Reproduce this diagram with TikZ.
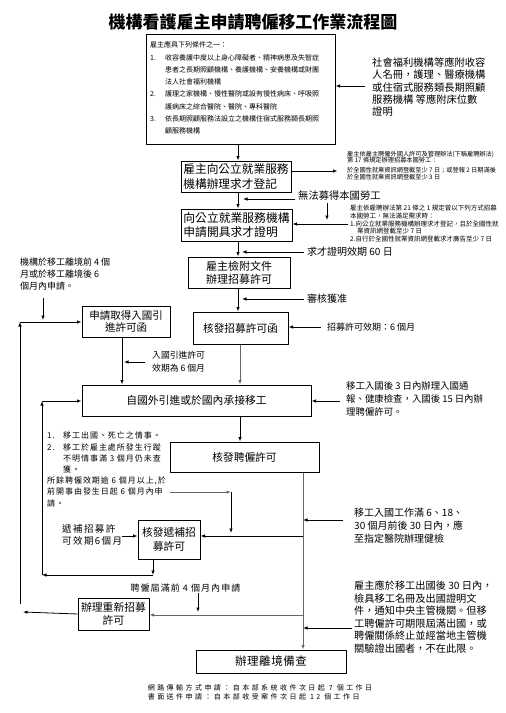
\documentclass[tikz,border=0pt]{standalone}
\usepackage{fontspec}
\setmainfont{Noto Sans CJK TC}
\usetikzlibrary{arrows.meta}

\begin{document}
\begin{tikzpicture}[x=1pt,y=-1pt,>={Latex[length=4.5pt,width=3.5pt]},line join=round,
  box/.style={draw,line width=1pt,align=center,inner sep=0pt},
  note/.style={anchor=north west,align=left,inner sep=0pt},
  lbl/.style={anchor=west,inner sep=0pt},
  conn/.style={->,line width=0.8pt},
  gconn/.style={->,line width=0.8pt,gray!80!black}]
  \useasboundingbox (0,0) rectangle (506,713);
  % title
  \node[font=\fontsize{17}{20}\selectfont\bfseries] (title) at (253,22) {機構看護雇主申請聘僱移工作業流程圖};
  % column coordinates
  \coordinate (mx) at (238,0);
  \coordinate (mxr) at (242,0);
  \coordinate (cx) at (240,0);
  \coordinate (ex) at (122,0);
  \coordinate (rj) at (303,536);
  % boxes
  \node[box,minimum width=189pt,minimum height=110pt] (cond) at (240.5,89) {};
  \node[note,font=\fontsize{7}{12.3}\selectfont] (condtxt) at (150,41.5) {雇主應具下列條件之一：\\
    \makebox[15pt][l]{1.}收容養護中度以上身心障礙者、精神病患及失智症\\
    \hspace*{15pt}患者之長期照顧機構、養護機構、安養機構或財團\\
    \hspace*{15pt}法人社會福利機構\\
    \makebox[15pt][l]{2.}護理之家機構、慢性醫院或設有慢性病床、呼吸照\\
    \hspace*{15pt}護病床之綜合醫院、醫院、專科醫院\\
    \makebox[15pt][l]{3.}依長期照顧服務法設立之機構住宿式服務類長期照\\
    \hspace*{15pt}顧服務機構};
  \node[box,align=left,minimum width=110pt,minimum height=31pt,font=\fontsize{11.7}{15.5}\selectfont] (reg) at (236,176.5) {雇主向公立就業服務\\機構辦理求才登記};
  \node[box,align=left,minimum width=111pt,minimum height=32pt,font=\fontsize{11.8}{14}\selectfont] (cert) at (236.5,225) {向公立就業服務機構\\申請開具求才證明};
  \node[box,minimum width=102pt,minimum height=31pt,font=\fontsize{11}{13}\selectfont] (docs) at (239,272.5) {雇主檢附文件\\辦理招募許可};
  \node[box,minimum width=88pt,minimum height=31pt,font=\fontsize{10.5}{12.5}\selectfont] (entry) at (126,321.5) {申請取得入國引\\進許可函};
  \node[box,minimum width=95pt,minimum height=32pt,font=\fontsize{10.7}{13}\selectfont] (recruit) at (240.5,328) {核發招募許可函};
  \node[box,minimum width=229pt,minimum height=31pt,font=\fontsize{10.8}{13}\selectfont] (hire) at (196.5,400.5) {自國外引進或於國內承接移工};
  \node[box,minimum width=149pt,minimum height=30pt,font=\fontsize{10.7}{13}\selectfont] (permit) at (244.5,457) {核發聘僱許可};
  \node[box,minimum width=62pt,minimum height=39pt,font=\fontsize{10.8}{13.5}\selectfont] (refill) at (169,539.5) {核發遞補招\\募許可};
  \node[box,minimum width=71pt,minimum height=32pt,font=\fontsize{10.8}{13}\selectfont] (renew) at (113.5,614) {辦理重新招募\\許可};
  \node[box,minimum width=150pt,minimum height=23pt,font=\fontsize{11.5}{13}\selectfont\addfontfeature{LetterSpace=5}] (leave) at (271,661.5) {辦理離境備查};
  % notes
  \node[note,font=\fontsize{10.3}{12.3}\selectfont] (welfare) at (372,57.5) {社會福利機構等應附收容\\人名冊，護理、醫療機構\\或住宿式服務類長期照顧\\服務機構 等應附床位數\\證明};
  \node[note,font=\fontsize{6.2}{6.5}\selectfont] (art17) at (347,151) {雇主依雇主聘僱外國人許可及管理辦法(下稱雇聘辦法)\\第 17 條規定辦理招募本國勞工：\\[3.5pt]於全國性就業資訊網登載至少 7 日；或登報 2 日期滿後\\於全國性就業資訊網登載至少 3 日};
  \node[lbl,font=\fontsize{10.3}{12}\selectfont] (nofound) at (298,196) {無法募得本國勞工};
  \node[note,font=\fontsize{6.5}{7.9}\selectfont] (art21) at (350,204.5) {雇主依雇聘辦法第 21 條之 1 規定曾以下列方式招募\\本國勞工，無法滿足需求時：\\1.向公立就業服務機構辦理求才登記，且於全國性就\\\hspace*{7pt}業資訊網登載至少 7 日\\2.自行於全國性就業資訊網登載求才廣告至少 7 日};
  \node[lbl,font=\fontsize{10}{12}\selectfont] (valid60) at (307,252) {求才證明效期 60 日};
  \node[lbl,font=\fontsize{10}{12}\selectfont] (approve) at (307,299) {審核獲准};
  \node[lbl,font=\fontsize{9}{11}\selectfont] (valid6m) at (327,327) {招募許可效期：6 個月};
  \node[note,font=\fontsize{9}{12.3}\selectfont] (apply) at (20,257.5) {機構於移工離境前 4 個\\月或於移工離境後 6\\個月內申請。};
  \node[note,font=\fontsize{8.8}{13}\selectfont] (evalid) at (152,350.6) {入國引進許可\\效期為 6 個月};
  \node[note,font=\fontsize{9.4}{13}\selectfont] (hnote) at (346,381.3) {移工入國後 3 日內辦理入國通\\報、健康檢查，入國後 15 日內辦\\理聘僱許可。};
  \node[note,font=\fontsize{8}{11.2}\selectfont\addfontfeature{LetterSpace=12}] (cases) at (47,432) {\makebox[16pt][l]{1.}移工出國、死亡之情事。\\
    \makebox[16pt][l]{2.}移工於雇主處所發生行蹤\\
    \hspace*{16pt}不明情事滿 3 個月仍未查\\
    \hspace*{16pt}獲。\\
    所餘聘僱效期逾 6 個月以上,於\\
    前開事由發生日起 6 個月內申\\
    請。};
  \node[note,font=\fontsize{9.5}{12}\selectfont\addfontfeature{LetterSpace=15}] (rvalid) at (62,524) {遞補招募許\\可效期6個月};
  \node[note,font=\fontsize{10}{13}\selectfont] (pnote) at (354,508) {移工入國工作滿 6、18、\\30 個月前後 30 日內，應\\至指定醫院辦理健檢};
  \node[inner sep=0pt,font=\fontsize{9}{11}\selectfont\addfontfeature{LetterSpace=12}] (before4) at (185.5,588) {聘僱屆滿前 4 個月內申請};
  \node[note,font=\fontsize{10.2}{12.5}\selectfont] (onote) at (354,580.9) {雇主應於移工出國後 30 日內，\\檢具移工名冊及出國證明文\\件，通知中央主管機關。但移\\工聘僱許可期限屆滿出國，或\\聘僱關係終止並經當地主管機\\關驗證出國者，不在此限。};
  \node[inner sep=0pt,align=left,font=\fontsize{7}{9}\selectfont\addfontfeature{LetterSpace=35}] (foot) at (260,692.5) {網路傳輸方式申請：自本部系統收件次日起 7 個工作日\\書面送件申請：自本部收受案件次日起 12 個工作日};
  % main column
  \draw[conn] (cond.south -| mx) -- (reg.north -| mx);
  \draw[conn] (reg.south -| mx) -- (cert.north -| mx);
  \draw[conn] (cert.south -| mx) -- (docs.north -| mx);
  \draw[conn] (docs.south -| mx) -- (recruit.north -| mx);
  \draw[gconn] (recruit.south -| cx) -- (hire.north -| cx);
  \draw[conn] (hire.south -| cx) -- (permit.north -| cx);
  \draw[conn] (entry.south -| ex) -- (hire.north -| ex);
  \draw[gconn] (permit.south -| rj) -- (leave.north -| rj);
  \draw[conn] (rj) -- (rj -| refill.east);
  % side arrows
  \coordinate (wf) at (365,86);
  \draw[conn] (wf) -- (wf -| cond.east);
  \draw[conn] ([yshift=5.5pt]reg.east) -- ++(46,0);
  \draw[conn] ([xshift=-3pt,yshift=-3pt]nofound.west) -- ++(-52,0);
  \coordinate (dn) at (327,203);
  \draw[conn] (dn) -- ++(0,17);
  \coordinate (a21) at (348,224);
  \draw[conn] (a21) -- (a21 -| cert.east);
  \draw[conn] ([xshift=-3pt]valid60.west) -- (valid60.west -| mxr);
  \draw[conn] ([xshift=-3pt]approve.west) -- (approve.west -| mxr);
  \draw[conn] ([xshift=-6pt]valid6m.west) -- (valid6m.west -| recruit.east);
  \coordinate (ev) at (145,362);
  \draw[conn] (ev) -- ++(-21,0);
  \coordinate (hn) at (340,401);
  \draw[conn] (hn) -- (hn -| hire.east);
  \coordinate (pn) at (343,520);
  \draw[conn] (pn) -- (pn -| rj);
  \coordinate (on) at (352,628);
  \draw[conn] (on) -- (on -| rj);
  \coordinate (rn) at (303,615);
  \draw[gconn] (rn) -- (rn -| renew.east);
  \coordinate (b4) at (198,593);
  \draw[conn] (b4) -- ++(0,19);
  \coordinate (rv) at (122,536);
  \draw[conn] (rv) -- (rv -| refill.west);
  % cases to refill
  \coordinate (cs) at (170,492);
  \coordinate (cj) at (231,492);
  \coordinate (cb) at (231,533);
  \draw[gconn] (cs) -- (cj);
  \draw[conn] (cj) -- (cb);
  % inner loop
  \coordinate (lp) at (153,575);
  \coordinate (ll) at (42,575);
  \coordinate (il) at (42,401);
  \draw[conn] (refill.south -| lp) -- (lp);
  \draw[conn] (lp) -- (ll);
  \draw[conn] (ll) -- (il);
  \draw[conn] (il) -- (il -| hire.west);
  % outer loop
  \coordinate (ap) at (43,298);
  \draw[conn] (ap) -- ++(0,22);
  \coordinate (olb) at (20,604);
  \coordinate (ol) at (20,322);
  \coordinate (ob) at (23,612);
  \draw[conn] (renew.west) -- (ob);
  \draw[conn] (olb) -- (ol);
  \draw[conn] (ol) -- (ol -| entry.west);
\end{tikzpicture}
\end{document}
